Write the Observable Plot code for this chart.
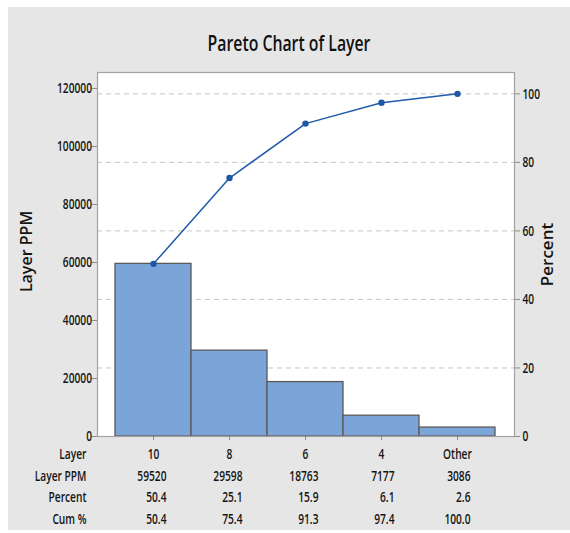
<!DOCTYPE html>
<html><head><meta charset="utf-8">
<script src="https://cdn.jsdelivr.net/npm/d3@7"></script>
<script src="https://cdn.jsdelivr.net/npm/@observablehq/plot@0.6"></script>
<style>
html,body{margin:0;padding:0;background:#fff;}
#wrap{position:relative;width:570px;height:533px;overflow:hidden;}
#bg{position:absolute;left:8px;top:7px;width:562px;height:523px;background:#e6e6e6;}
#chart{position:absolute;left:0;top:0;}
</style></head><body>
<div id="wrap"><div id="bg"></div><div id="chart"></div></div>
<script>
const chartTitle = "Pareto Chart of Layer";
const categories = ["10", "8", "6", "4", "Other"];
const layerPPM = [59520, 29598, 18763, 7177, 3086];
const percent = [50.4, 25.1, 15.9, 6.1, 2.6];
const cumPercent = [50.4, 75.4, 91.3, 97.4, 100.0];
const leftTicks = [0, 20000, 40000, 60000, 80000, 100000, 120000];
const percentTicks = [0, 20, 40, 60, 80, 100];
const rowLabels = ["Layer", "Layer PPM", "Percent", "Cum %"];

const total = d3.sum(layerPPM);
const cumPPM = Array.from(d3.cumsum(layerPPM));
const data = categories.map((c, i) => ({cat: c, ppm: layerPPM[i], pct: percent[i], cumPct: cumPercent[i], cum: cumPPM[i]}));
const pctToPPM = p => p / 100 * total;

const rowText = [
  {text: d => d.cat, anchor: "middle", dx: 0},
  {text: d => String(d.ppm), anchor: "end", dx: 13},
  {text: d => d.pct.toFixed(1), anchor: "end", dx: 13},
  {text: d => d.cumPct.toFixed(1), anchor: "end", dx: 13}
];
const rowDy = [22.3, 44, 65.7, 87.3];

const rowMarks = [];
rowLabels.forEach((lab, i) => {
  rowMarks.push(Plot.text([lab], {text: d => d, frameAnchor: "bottom-left", dx: -11, dy: rowDy[i], textAnchor: "end", lineAnchor: "bottom"}));
  rowMarks.push(Plot.text(data, {x: "cat", text: rowText[i].text, frameAnchor: "bottom", dx: rowText[i].dx, dy: rowDy[i], textAnchor: rowText[i].anchor, lineAnchor: "bottom"}));
});

const chart = Plot.plot({
  width: 570, height: 533,
  marginLeft: 97, marginRight: 56, marginTop: 72, marginBottom: 97,
  style: {background: "transparent", fontFamily: "'Open Sans', sans-serif", fontSize: "15px", fontWeight: 600, color: "#141414"},
  x: {type: "band", domain: categories, padding: 0, insetLeft: 18, insetRight: 19, label: null},
  y: {domain: [0, 125500], label: null},
  marks: [
    Plot.frame({fill: "white", stroke: null}),
    Plot.gridY(percentTicks.slice(1).map(pctToPPM), {stroke: "#c6c6c6", strokeOpacity: 1, strokeDasharray: "5,4"}),
    Plot.barY(data, {x: "cat", y: "ppm", fill: "#7ba5d8", stroke: "#5a5a5a", strokeWidth: 1.3}),
    Plot.line(data, {x: "cat", y: "cum", stroke: "#1f5ba8", strokeWidth: 1.5}),
    Plot.dot(data, {x: "cat", y: "cum", r: 3.2, fill: "#1c58a4", stroke: null}),
    Plot.frame({stroke: "#a3a3a3", strokeWidth: 1.2}),
    Plot.axisY(leftTicks, {anchor: "left", tickSize: 5, tickPadding: 0.5, tickFormat: d => String(d), label: null, stroke: "#8c8c8c"}),
    Plot.axisY(percentTicks.map(pctToPPM), {anchor: "right", tickSize: 5, tickPadding: 3, tickFormat: d => String(Math.round(d / total * 100)), label: null, stroke: "#8c8c8c"}),
    Plot.axisX({tickSize: 4, tickFormat: () => "", label: null, stroke: "#8c8c8c"}),
    ...rowMarks,
    Plot.text([chartTitle], {text: d => d, frameAnchor: "top", dx: -17, dy: -22, lineAnchor: "bottom", fontSize: 21, fill: "#111"}),
    Plot.text(["Layer PPM"], {text: d => d, frameAnchor: "left", textAnchor: "middle", dx: -71, dy: -3, rotate: -90, fontSize: 16}),
    Plot.text(["Percent"], {text: d => d, frameAnchor: "right", textAnchor: "middle", dx: 33, rotate: -90, fontSize: 17})
  ]
});
document.getElementById("chart").appendChild(chart);

// condensed look of the horizontal labels (widths matched to the reference)
const allTexts = Array.from(chart.querySelectorAll("text"));
const titleText = allTexts.find(t => t.textContent === chartTitle);
const refTick = allTexts.find(t => t.textContent === "120000");
const SX = refTick ? 35 / refTick.getComputedTextLength() : 0.66;
const SX_TITLE = titleText ? 163 / titleText.getComputedTextLength() : 0.8;
allTexts.forEach(t => {
  const tr = t.getAttribute("transform") || "";
  if (/rotate/.test(tr)) return;
  const s = t === titleText ? SX_TITLE : SX;
  const x = parseFloat(t.getAttribute("x")) || 0;
  t.setAttribute("transform", `${tr} translate(${x},0) scale(${s},1) translate(${-x},0)`);
});
</script>
</body></html>
